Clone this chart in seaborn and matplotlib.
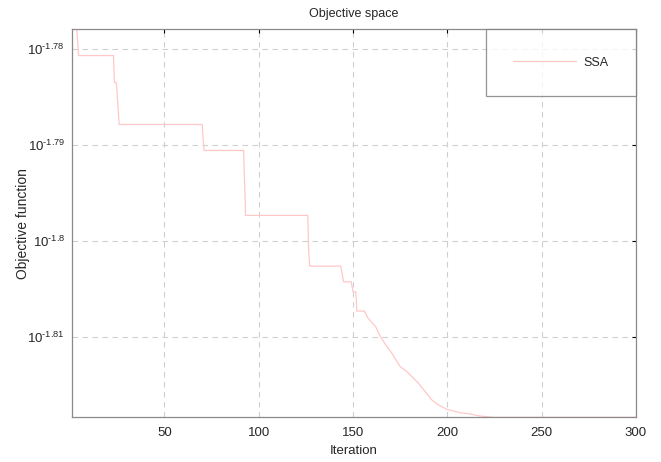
import numpy as np
import pandas as pd
import matplotlib
matplotlib.use("Agg")
import matplotlib.pyplot as plt
import seaborn as sns
from matplotlib.ticker import FixedLocator, FixedFormatter, NullLocator

# ---- data: polyline of the best-so-far curve ----
iterations = [1, 3.5, 4.5, 23, 23.5, 24.5, 25, 26, 70, 71, 92, 93, 126, 126.5,
              127, 143.5, 145, 149, 150, 151.5, 152, 156, 158, 162, 164.5, 168,
              170.6, 175, 178.6, 184.7, 191.8, 195, 199.7, 206.8, 212, 217,
              224.4, 300]
log10_objective = [-1.7780, -1.7780, -1.78073, -1.78073, -1.78353, -1.78353,
                   -1.7849, -1.78789, -1.78789, -1.79059, -1.79059, -1.79734,
                   -1.79734, -1.80112, -1.80261, -1.80261, -1.80424, -1.80424,
                   -1.80528, -1.80528, -1.80728, -1.80728, -1.80804, -1.80891,
                   -1.80995, -1.81099, -1.81167, -1.81306, -1.81358, -1.81479,
                   -1.81652, -1.81700, -1.81749, -1.81784, -1.81797, -1.81818,
                   -1.81832, -1.81832]
series_name = "SSA"
ytick_exponents = [-1.78, -1.79, -1.80, -1.81]
ytick_labels = ["$\\mathregular{10^{\u20101.78}}$", "$\\mathregular{10^{\u20101.79}}$",
                "$\\mathregular{10^{\u20101.8}}$", "$\\mathregular{10^{\u20101.81}}$"]
xticks = [50, 100, 150, 200, 250, 300]

df = pd.DataFrame({"Iteration": iterations,
                   "Objective": [10 ** v for v in log10_objective],
                   "Algorithm": series_name})

sns.set_style("white")
plt.rcParams["font.family"] = ["Liberation Sans", "DejaVu Sans"]
plt.rcParams["mathtext.fontset"] = "custom"
plt.rcParams["mathtext.rm"] = "Liberation Sans"

fig = plt.figure(figsize=(6.61, 4.62), dpi=100)
ax = fig.add_axes([72 / 661, 1 - 417.3 / 462, (636 - 72) / 661, (417.3 - 29.3) / 462])

sns.lineplot(data=df, x="Iteration", y="Objective", hue="Algorithm",
             palette=["#ffc8c8"], linewidth=0.9,
             estimator=None, sort=False, ax=ax)

ax.set_yscale("log")
ax.set_xlim(1, 300)
ax.set_ylim(10 ** min(log10_objective), 10 ** max(log10_objective))

ax.xaxis.set_major_locator(FixedLocator(xticks))
ax.xaxis.set_minor_locator(NullLocator())
ax.yaxis.set_major_locator(FixedLocator([10 ** e for e in ytick_exponents]))
ax.yaxis.set_major_formatter(FixedFormatter(ytick_labels))
ax.yaxis.set_minor_locator(NullLocator())

ax.tick_params(axis="both", which="major", direction="in", length=3, width=0.8,
               color="black", top=True, right=True)
ax.tick_params(axis="x", labelsize=9.5, pad=7)
ax.tick_params(axis="y", labelsize=9.5, pad=5)
for sp in ax.spines.values():
    sp.set_color("#8a8a8a")
    sp.set_linewidth(0.9)

ax.grid(True, which="major", linestyle=(0, (5, 4)), color="#cfcfcf", linewidth=0.8)

ax.set_title("Objective space", fontsize=9, pad=9)
ax.set_xlabel("Iteration", fontsize=9.5, labelpad=4)
ax.set_ylabel("Objective function", fontsize=10)
ax.yaxis.set_label_coords(-0.074, 0.5)

leg = ax.legend(loc="upper right", borderaxespad=0, frameon=True, fancybox=False,
                fontsize=9, borderpad=2.2, handlelength=5.0, handletextpad=0.6)
leg.get_frame().set_edgecolor("#7a7a7a")
leg.get_frame().set_linewidth(0.9)
leg.set_title(None)

fig.savefig("out.png", dpi=100)
